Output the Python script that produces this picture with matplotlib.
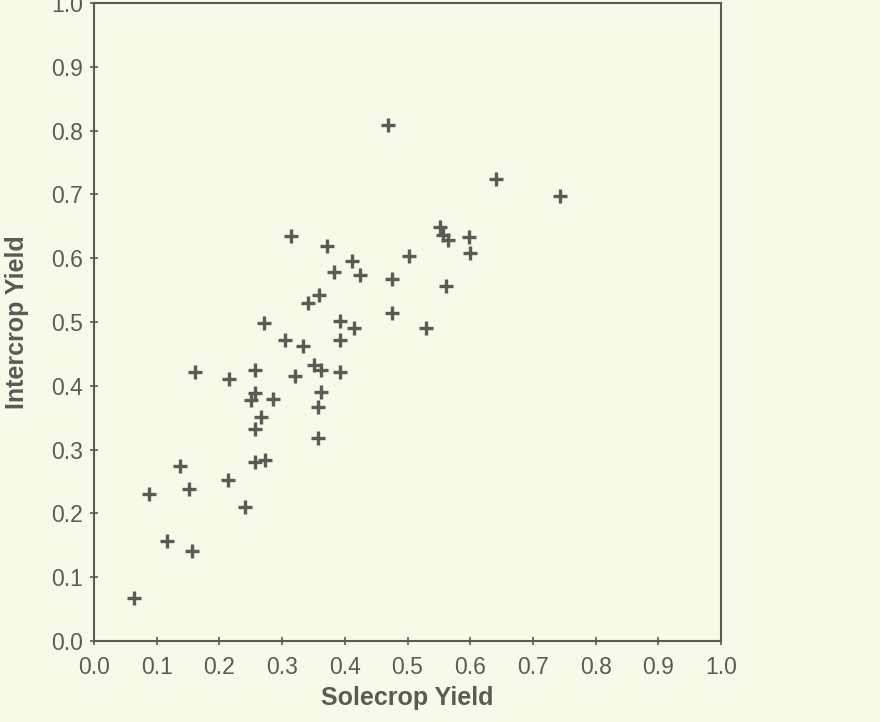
import matplotlib
matplotlib.use("Agg")
import matplotlib.pyplot as plt

# Data (Solecrop vs Intercrop yield)
solecrop_yield = [0.063, 0.088, 0.116, 0.137, 0.152, 0.156, 0.161, 0.214, 0.216, 0.241,
                  0.250, 0.257, 0.257, 0.257, 0.266, 0.257, 0.273, 0.271, 0.285, 0.305,
                  0.314, 0.321, 0.333, 0.341, 0.351, 0.359, 0.362, 0.362, 0.358, 0.358,
                  0.371, 0.383, 0.392, 0.393, 0.393, 0.411, 0.415, 0.424, 0.469, 0.475,
                  0.476, 0.503, 0.529, 0.552, 0.557, 0.565, 0.561, 0.598, 0.600, 0.641,
                  0.743]
intercrop_yield = [0.068, 0.230, 0.156, 0.275, 0.239, 0.141, 0.422, 0.253, 0.410, 0.210,
                   0.378, 0.389, 0.424, 0.333, 0.351, 0.280, 0.284, 0.498, 0.380, 0.472,
                   0.635, 0.415, 0.463, 0.530, 0.433, 0.542, 0.424, 0.391, 0.367, 0.318,
                   0.619, 0.578, 0.472, 0.502, 0.422, 0.595, 0.491, 0.573, 0.809, 0.514,
                   0.568, 0.604, 0.490, 0.649, 0.636, 0.628, 0.557, 0.633, 0.608, 0.724,
                   0.697]
tick_values = [0.0, 0.1, 0.2, 0.3, 0.4, 0.5, 0.6, 0.7, 0.8, 0.9, 1.0]
tick_labels = ["0.0", "0.1", "0.2", "0.3", "0.4", "0.5", "0.6", "0.7", "0.8", "0.9", "1.0"]
x_label = "Solecrop Yield"
y_label = "Intercrop Yield"

bg = "#f9f9ea"
ink = "#5b5b55"

plt.rcParams['font.family'] = ['Liberation Sans', 'DejaVu Sans']

fig = plt.figure(figsize=(8.8, 7.22), dpi=100, facecolor=bg)
ax = fig.add_axes([94/880, 1 - 641/722, (721-94)/880, (641-3)/722])
ax.set_facecolor(bg)

ax.plot(solecrop_yield, intercrop_yield, linestyle="none", marker="+",
        markersize=9.5, markeredgewidth=2.4, color=ink)

ax.set_xlim(0, 1.0)
ax.set_ylim(0, 1.0)
ax.set_xticks(tick_values)
ax.set_xticklabels(tick_labels)
ax.set_yticks(tick_values)
ax.set_yticklabels(tick_labels)

for s in ax.spines.values():
    s.set_color(ink)
    s.set_linewidth(1.5)

ax.tick_params(axis="both", direction="inout", length=6, width=1.2, color=ink,
               labelcolor=ink, labelsize=16.5)
ax.tick_params(axis="x", pad=8)
ax.tick_params(axis="y", pad=5)

ax.set_xlabel(x_label, fontsize=18, fontweight="bold", color=ink, labelpad=5)
ax.set_ylabel(y_label, fontsize=18, fontweight="bold", color=ink, labelpad=16)

fig.savefig("out.png", dpi=100, facecolor=bg)
